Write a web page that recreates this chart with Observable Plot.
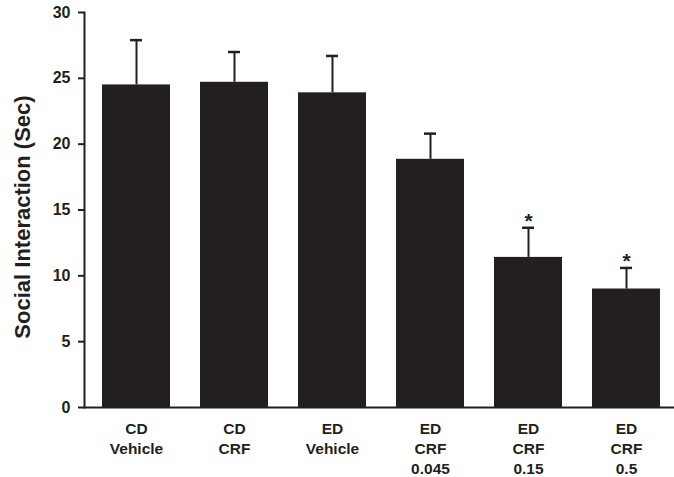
<!DOCTYPE html>
<html><head><meta charset="utf-8">
<script src="https://cdn.jsdelivr.net/npm/d3@7"></script>
<script src="https://cdn.jsdelivr.net/npm/@observablehq/plot@0.6"></script>
<style>
html,body{margin:0;padding:0;background:#fff;}
svg{font-family:"Liberation Sans",Arial,sans-serif;font-weight:bold;}
</style></head>
<body><div id="chart"></div>
<script>
const groups = ["CD\nVehicle", "CD\nCRF", "ED\nVehicle", "ED\nCRF\n0.045", "ED\nCRF\n0.15", "ED\nCRF\n0.5"];
const means = [24.5, 24.7, 23.9, 18.85, 11.4, 9.0];
const errors = [3.4, 2.3, 2.8, 1.95, 2.25, 1.6];
const stars = ["", "", "", "", "*", "*"];
const yTicks = [0, 5, 10, 15, 20, 25, 30];
const yLabel = "Social Interaction (Sec)";

const data = groups.map((g, i) => ({group: g, mean: means[i], top: means[i] + errors[i], star: stars[i]}));
const ink = "#231f20";

const chart = Plot.plot({
  width: 674,
  height: 477,
  marginLeft: 84,
  marginRight: 0,
  marginTop: 12,
  marginBottom: 70,
  style: {fontFamily: "'Liberation Sans', Arial, sans-serif", fontWeight: "bold", fontSize: "15.5px", color: ink},
  x: {domain: groups, range: [84, 677], paddingInner: 0.31, paddingOuter: 0.155, label: null},
  y: {domain: [0, 30], label: null},
  marks: [
    Plot.barY(data, {x: "group", y: "mean", fill: ink}),
    Plot.ruleX(data, {x: "group", y1: "mean", y2: "top", stroke: ink, strokeWidth: 2}),
    Plot.tickY(data, {x: "group", y: "top", stroke: ink, strokeWidth: 2.5, insetLeft: 28, insetRight: 28}),
    Plot.text(data, {x: "group", y: "top", text: "star", dy: -7, fontSize: 21, fill: ink, fontWeight: "bold"}),
    Plot.axisY({ticks: yTicks, tickSize: 6, tickPadding: 8, strokeWidth: 2, fontSize: 16, fill: ink, stroke: ink, label: null}),
    Plot.axisX({tickSize: 0, tickPadding: 12, lineHeight: 1.29, fontSize: 15.5, fill: ink, label: null}),
    Plot.text([yLabel], {frameAnchor: "left", textAnchor: "middle", rotate: -90, dx: -62, dy: 7, fontSize: 22, fontWeight: "bold", fill: ink}),
    Plot.frame({anchor: "left", stroke: ink, strokeWidth: 2}),
    Plot.ruleY([0], {stroke: ink, strokeWidth: 2})
  ]
});
document.getElementById("chart").appendChild(chart);
</script></body></html>
